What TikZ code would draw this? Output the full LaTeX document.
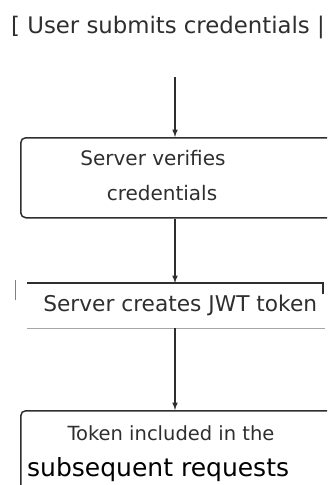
\documentclass[tikz,border=0pt]{standalone}
\usepackage{fontspec}
\setmainfont{DejaVu Sans}
\usepackage{tikz}
\usetikzlibrary{positioning, calc}
\definecolor{ink}{HTML}{2E2E2E}
\tikzset{stepbox/.style={draw=ink, line width=1.5pt, rounded corners=5pt, anchor=north west}, flowtext/.style={text=ink, inner sep=0pt}}

\begin{document}
\begin{tikzpicture}[x=1pt,y=-1pt]
                      \clip(0,0) rectangle (327,485);
                      \node[flowtext, anchor=base west, font=\fontsize{22.8}{24}\selectfont] (submit) at (11,33) {[ User submits credentials |};
                      \coordinate (start) at (175,77);
                      
                      \node[stepbox, minimum width=320, minimum height=80] (verify) at (20,137) {};
                      \node[flowtext, font=\fontsize{20}{22}\selectfont] (verifya) at (153,158) {Server verifies};
                      \node[flowtext, font=\fontsize{20}{22}\selectfont] (verifyb) at (162,193) {credentials};
                      
                      \node[flowtext, minimum width=306, minimum height=45, anchor=north west, font=\fontsize{21.7}{23}\selectfont] (create) at (27,283) {Server creates JWT token};
                      \draw[ink, line width=1.5pt](create.north west)--++(296,0)--++(0,11);
                      \draw[gray!70, line width=1.3pt](create.south west)--++(298,0);
                      \draw[gray, line width=1pt](15,280)--(15,300);
                      
                      \node[stepbox, minimum width=320, minimum height=100] (token) at (20,410) {};
                      \node[flowtext, font=\fontsize{19.5}{21}\selectfont] (tokena) at (171,433) {Token included in the};
                      \node[flowtext, anchor=base west, font=\fontsize{25}{27}\selectfont, text=black] (tokenb) at (27,476) {subsequent requests};
                      
                      \draw[ink, line width=1.5pt, -latex](start)--(start |- verify.north);
                      \draw[ink, line width=1.5pt, -latex](start |- verify.south)--(start |- create.north);
                      \draw[ink, line width=1.5pt, -latex](start |- create.south)--(start |- token.north);
\end{tikzpicture}
\end{document}
